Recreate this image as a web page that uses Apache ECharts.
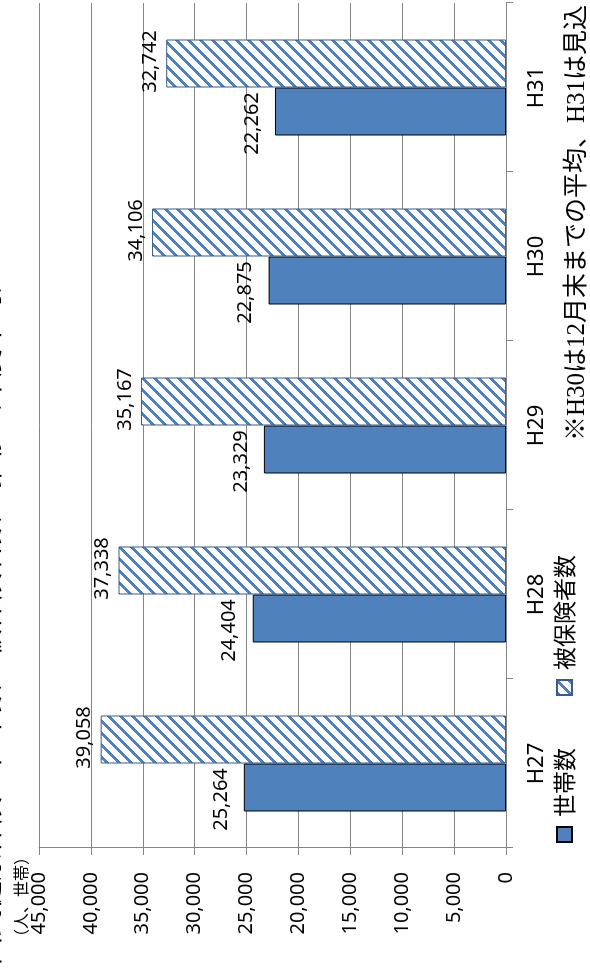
<!DOCTYPE html>
<html>
<head>
<meta charset="utf-8">
<script src="https://cdn.jsdelivr.net/npm/echarts@6/dist/echarts.min.js"></script>
<style>
  html, body { margin: 0; padding: 0; background: #fff; overflow: hidden; width: 590px; height: 970px; }
  #wrap { position: absolute; left: 0; top: 0; width: 970px; height: 590px;
          transform-origin: 0 0; transform: translate(0px, 970px) rotate(-90deg); }
  #chart { width: 970px; height: 590px; }
</style>
</head>
<body>
<div id="wrap"><div id="chart"></div></div>
<script>
// ---- data ----
const categories = ['H27', 'H28', 'H29', 'H30', 'H31'];
const households = [25264, 24404, 23329, 22875, 22262];   // 世帯数
const insured    = [39058, 37338, 35167, 34106, 32742];   // 被保険者数
const seriesNames = ['世帯数', '被保険者数'];
const valueMin = 0, valueMax = 45000, valueStep = 5000;
const unitText = '（人、世帯）';
const noteText = '※H30は12月末までの平均、H31は見込';
const titleText = '国民健康保険の世帯数・被保険者数の推移（年度平均）';

// ---- hatch pattern ----
function makeHatch() {
  const c = document.createElement('canvas');
  c.width = 12; c.height = 12;
  const g = c.getContext('2d');
  g.fillStyle = '#ffffff'; g.fillRect(0, 0, 12, 12);
  g.fillStyle = '#4F81BD';
  for (let i = 0; i < 12; i++) for (let j = 0; j < 12; j++) {
    if (((i + j) % 12) < 4) g.fillRect(i, j, 1, 1);
  }
  return c;
}
const hatch = { image: makeHatch(), repeat: 'repeat' };

const numFont = "'Noto Sans', 'Noto Sans CJK JP', sans-serif";
const jpFont = "'Noto Sans CJK JP', 'Noto Sans', sans-serif";
const fmt = v => Number(v).toLocaleString('en-US');

const chart = echarts.init(document.getElementById('chart'), null, { renderer: 'canvas' });
chart.setOption({
  animation: false,
  backgroundColor: '#ffffff',
  grid: { left: 122, right: 3, top: 39, bottom: 84, containLabel: false },
  legend: {
    data: seriesNames,
    left: 122, top: 548,
    itemWidth: 15, itemHeight: 15, itemGap: 52,
    icon: 'rect',
    textStyle: { fontFamily: jpFont, fontSize: 23, color: '#000', padding: [0, 0, 0, 5] }
  },
  xAxis: {
    type: 'category',
    data: categories,
    axisLine: { lineStyle: { color: '#868686', width: 1 } },
    axisTick: { show: true, length: 7, lineStyle: { color: '#868686' } },
    axisLabel: { fontFamily: numFont, fontSize: 22, color: '#000', margin: 20 }
  },
  yAxis: {
    type: 'value',
    min: valueMin, max: valueMax, interval: valueStep,
    axisLine: { show: true, lineStyle: { color: '#868686', width: 1 } },
    axisTick: { show: true, length: 7, lineStyle: { color: '#868686' } },
    splitLine: { lineStyle: { color: '#868686', width: 1 } },
    axisLabel: { fontFamily: numFont, fontSize: 20, color: '#000', margin: 24, formatter: v => fmt(v) }
  },
  series: [
    {
      name: seriesNames[0], type: 'bar', data: households,
      barWidth: 48, barGap: '0%',
      itemStyle: { color: '#4F81BD', borderColor: '#000000', borderWidth: 1 },
      label: { show: true, position: 'top', distance: 13, offset: [-12, 0],
               fontFamily: numFont, fontSize: 20, color: '#000', formatter: p => fmt(p.value) }
    },
    {
      name: seriesNames[1], type: 'bar', data: insured,
      barWidth: 48, barGap: '0%',
      itemStyle: { color: hatch, borderColor: '#385D8A', borderWidth: 1 },
      label: { show: true, position: 'top', distance: 6, offset: [2, 0],
               fontFamily: numFont, fontSize: 20, color: '#000', formatter: p => fmt(p.value) }
    }
  ],
  graphic: [
    { type: 'text', left: 25, top: 13,
      style: { text: unitText, fontFamily: jpFont, fontSize: 16, fill: '#000' } },
    { type: 'text', right: 5, top: 565,
      style: { text: noteText, fontFamily: "'Liberation Serif', 'Noto Sans CJK JP', serif", fontSize: 25, fill: '#000' } },
    { type: 'text', left: 5, top: -26,
      style: { text: titleText, fontFamily: jpFont, fontSize: 28, fill: '#000' } }
  ]
});
</script>
</body>
</html>
